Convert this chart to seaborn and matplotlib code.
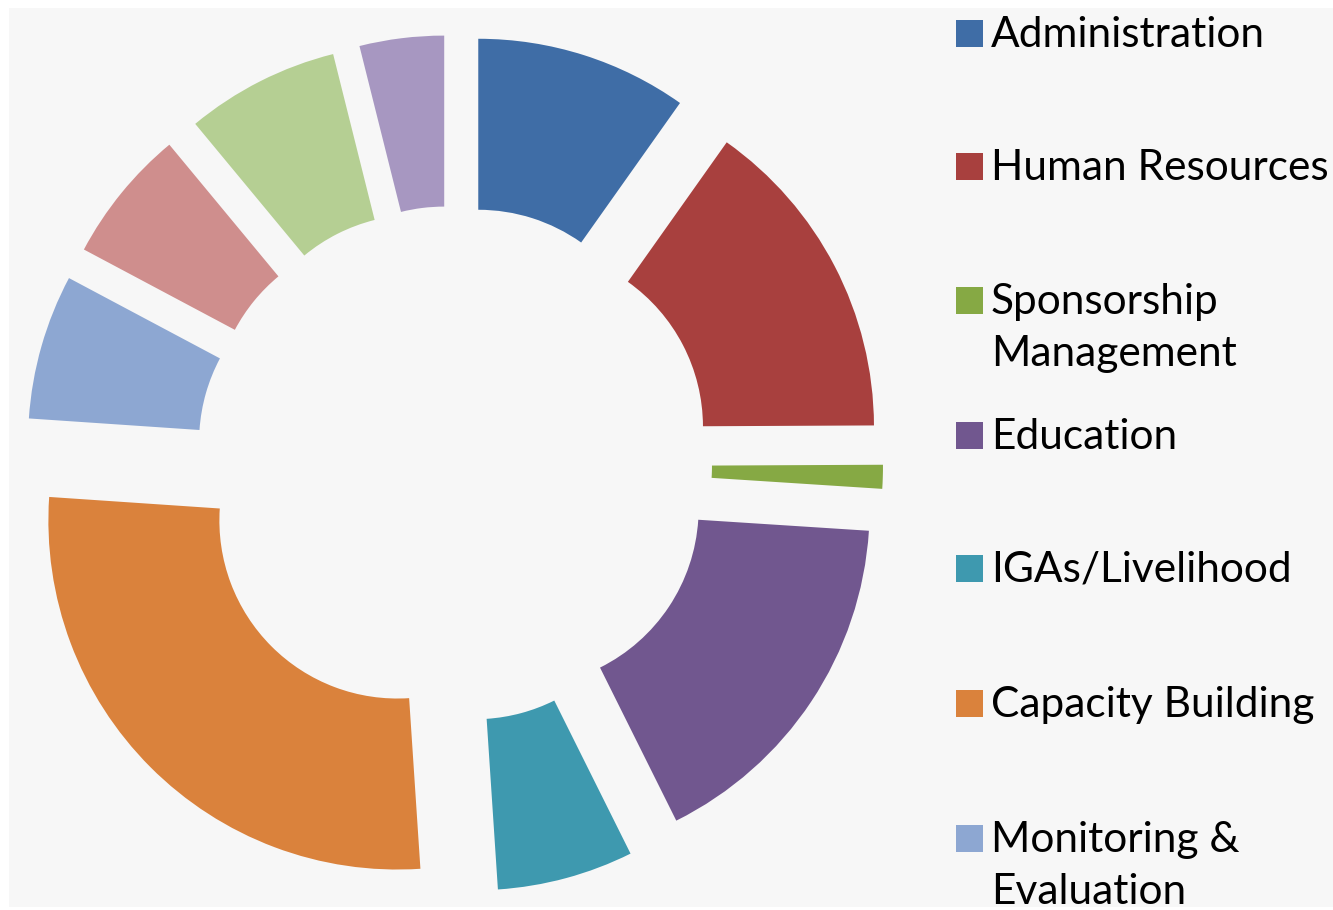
import matplotlib
matplotlib.use("Agg")
import matplotlib.pyplot as plt
import matplotlib.patches as mpatches
import seaborn as sns

# budget share per area, clockwise from 12 o'clock
categories = [
    "Administration",
    "Human Resources",
    "Sponsorship\nManagement",
    "Education",
    "IGAs/Livelihood",
    "Capacity Building",
    "Monitoring &\nEvaluation",
    "Other 1",
    "Other 2",
    "Other 3",
]
shares = [9.8, 15.1, 1.1, 16.6, 6.3, 27.1, 6.7, 6.2, 7.1, 3.9]
colors = [
    "#3F6DA6", "#A8403E", "#86A944", "#71578F", "#3E99AF",
    "#DA823C", "#8DA7D2", "#CF8E8D", "#B5CF93", "#A797C1",
]
# only the first seven entries are visible in the legend
n_legend = 7

sns.set_theme(style="white")
plt.rcParams["font.family"] = ["Lato", "DejaVu Sans"]

W, H = 1333, 910
fig = plt.figure(figsize=(W / 100, H / 100), dpi=100)
fig.patch.set_facecolor("white")

# axes in pixel units so the ring size is easy to control
ax = fig.add_axes([0, 0, 1, 1])
ax.set_facecolor("none")

# light grey panel behind the chart
ax.add_patch(mpatches.Rectangle((9, 3), W - 9, H - 11, facecolor="#F7F7F7",
                                edgecolor="none", zorder=0))

R = 349
wedges, _ = ax.pie(
    shares,
    colors=colors,
    radius=R,
    center=(454, H - 464),
    startangle=90,
    counterclock=False,
    explode=[80] * len(shares),
    wedgeprops=dict(width=171, edgecolor="none"),
)
for w in wedges:
    w.set_zorder(2)
ax.set_xlim(0, W)
ax.set_ylim(0, H)
ax.set_aspect("equal")
ax.axis("off")

# legend drawn by hand: square aligned with the first text line
row_mid = [33, 166, 300, 435, 568, 703, 838]
line_step = 52
for i in range(n_legend):
    y = row_mid[i]
    ax.add_patch(mpatches.Rectangle((956, H - y - 14), 27, 27, facecolor=colors[i],
                                    edgecolor="none", zorder=3))
    for j, line in enumerate(categories[i].split("\n")):
        ax.text(991, H - y - 14 - j * line_step, line, fontsize=30.5,
                va="baseline", ha="left", color="black", zorder=3)

fig.savefig("out.png", dpi=100)
